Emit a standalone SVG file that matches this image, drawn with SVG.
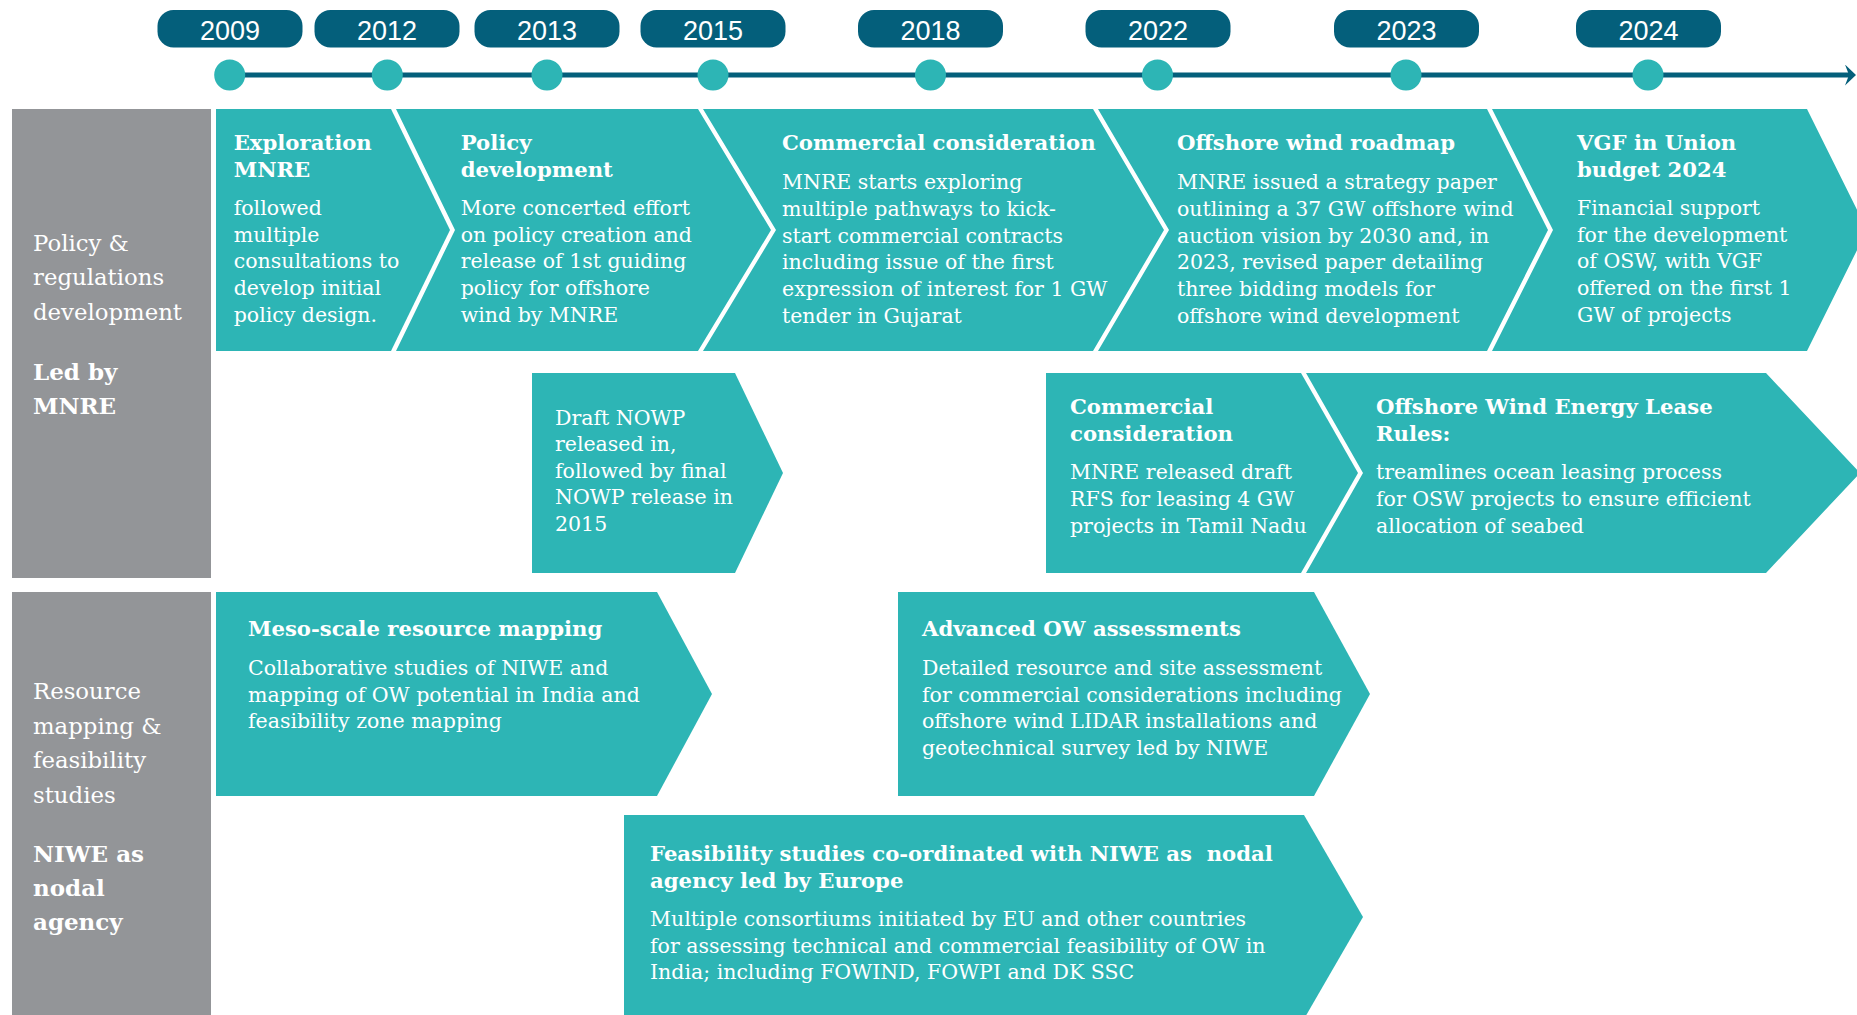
<svg xmlns="http://www.w3.org/2000/svg" width="1857" height="1015" viewBox="0 0 1857 1015">
<defs>
<style>
.box{fill:#2db5b5}
.side{fill:#939598}
.pill{fill:#045f7b}
.dot{fill:#2db5b5}
.t{font-family:"DejaVu Serif","Liberation Serif",serif;font-weight:bold;font-size:21.2px;fill:#fff}
.b{font-family:"DejaVu Serif","Liberation Serif",serif;font-size:20.5px;fill:#fff}
.g{font-family:"DejaVu Serif","Liberation Serif",serif;font-size:22.8px;fill:#fff}
.gb{font-family:"DejaVu Serif","Liberation Serif",serif;font-weight:bold;font-size:23px;fill:#fff}
.y{font-family:"Liberation Sans",Arial,sans-serif;font-size:27px;fill:#fff;text-anchor:middle}
</style>
<marker id="arr" viewBox="0 0 11 21" refX="6" refY="10.5" markerWidth="11" markerHeight="21" markerUnits="userSpaceOnUse" orient="auto">
<path d="M0,0 L11,10.5 L0,21 L4,10.5 Z" fill="#045f7b"/>
</marker>
</defs>
<rect width="1857" height="1015" fill="#fff"/>

<g id="connectors">
<line x1="230" y1="75" x2="1851" y2="75" stroke="#045f7b" stroke-width="5" marker-end="url(#arr)"/>
</g>

<g id="timeline">
<g id="y2009"><rect class="pill" x="157.5" y="10" width="145" height="37.5" rx="16"/><text class="y" x="230" y="40">2009</text><circle class="dot" cx="229.7" cy="75" r="15.5"/></g>
<g id="y2012"><rect class="pill" x="314.5" y="10" width="145" height="37.5" rx="16"/><text class="y" x="387" y="40">2012</text><circle class="dot" cx="387.3" cy="75" r="15.5"/></g>
<g id="y2013"><rect class="pill" x="474.5" y="10" width="145" height="37.5" rx="16"/><text class="y" x="547" y="40">2013</text><circle class="dot" cx="547" cy="75" r="15.5"/></g>
<g id="y2015"><rect class="pill" x="640.5" y="10" width="145" height="37.5" rx="16"/><text class="y" x="713" y="40">2015</text><circle class="dot" cx="713" cy="75" r="15.5"/></g>
<g id="y2018"><rect class="pill" x="858" y="10" width="145" height="37.5" rx="16"/><text class="y" x="930.5" y="40">2018</text><circle class="dot" cx="930.5" cy="75" r="15.5"/></g>
<g id="y2022"><rect class="pill" x="1085.5" y="10" width="145" height="37.5" rx="16"/><text class="y" x="1158" y="40">2022</text><circle class="dot" cx="1157.5" cy="75" r="15.5"/></g>
<g id="y2023"><rect class="pill" x="1334" y="10" width="145" height="37.5" rx="16"/><text class="y" x="1406.5" y="40">2023</text><circle class="dot" cx="1406" cy="75" r="15.5"/></g>
<g id="y2024"><rect class="pill" x="1576" y="10" width="145" height="37.5" rx="16"/><text class="y" x="1648.5" y="40">2024</text><circle class="dot" cx="1648" cy="75" r="15.5"/></g>
</g>

<g id="lane-policy">
<rect class="side" x="12" y="109" width="199" height="469"/>
<text class="g"><tspan x="33" y="250.7">Policy &amp;</tspan><tspan x="33" y="285.3">regulations</tspan><tspan x="33" y="320">development</tspan></text>
<text class="gb"><tspan x="33" y="380">Led by</tspan><tspan x="33" y="414">MNRE</tspan></text>
</g>

<g id="lane-resource">
<rect class="side" x="12" y="592" width="199" height="423"/>
<text class="g"><tspan x="33" y="699">Resource</tspan><tspan x="33" y="733.5">mapping &amp;</tspan><tspan x="33" y="768">feasibility</tspan><tspan x="33" y="802.5">studies</tspan></text>
<text class="gb"><tspan x="33" y="861.7">NIWE as</tspan><tspan x="33" y="895.7">nodal</tspan><tspan x="33" y="929.7">agency</tspan></text>
</g>

<g id="exploration">
<path class="box" d="M216,109 H391 L450,230 L391,351 H216 Z"/>
<text class="t"><tspan x="233.7" y="150">Exploration</tspan><tspan x="233.7" y="177.3">MNRE</tspan></text>
<text class="b"><tspan x="233.7" y="215">followed</tspan><tspan x="233.7" y="241.7">multiple</tspan><tspan x="233.7" y="268.3">consultations to</tspan><tspan x="233.7" y="295">develop initial</tspan><tspan x="233.7" y="321.7">policy design.</tspan></text>
</g>

<g id="policy-development">
<path class="box" d="M396,109 H698 L771,230 L698,351 H396 L455,230 Z"/>
<text class="t"><tspan x="460.7" y="150">Policy</tspan><tspan x="460.7" y="177.3">development</tspan></text>
<text class="b"><tspan x="460.7" y="215">More concerted effort</tspan><tspan x="460.7" y="241.7">on policy creation and</tspan><tspan x="460.7" y="268.3">release of 1st guiding</tspan><tspan x="460.7" y="295">policy for offshore</tspan><tspan x="460.7" y="321.7">wind by MNRE</tspan></text>
</g>

<g id="commercial-consideration">
<path class="box" d="M703,109 H1093 L1164,230 L1093,351 H703 L776,230 Z"/>
<text class="t"><tspan x="782" y="150">Commercial consideration</tspan></text>
<text class="b"><tspan x="782" y="189.3">MNRE starts exploring</tspan><tspan x="782" y="216">multiple pathways to kick-</tspan><tspan x="782" y="242.7">start commercial contracts</tspan><tspan x="782" y="269.3">including issue of the first</tspan><tspan x="782" y="296">expression of interest for 1 GW</tspan><tspan x="782" y="322.7">tender in Gujarat</tspan></text>
</g>

<g id="offshore-roadmap">
<path class="box" d="M1098,109 H1487 L1548,230 L1487,351 H1098 L1169,230 Z"/>
<text class="t"><tspan x="1177" y="150">Offshore wind roadmap</tspan></text>
<text class="b"><tspan x="1177" y="189.3">MNRE issued a strategy paper</tspan><tspan x="1177" y="216">outlining a 37 GW offshore wind</tspan><tspan x="1177" y="242.7">auction vision by 2030 and, in</tspan><tspan x="1177" y="269.3">2023, revised paper detailing</tspan><tspan x="1177" y="296">three bidding models for</tspan><tspan x="1177" y="322.7">offshore wind development</tspan></text>
</g>

<g id="vgf-budget">
<path class="box" d="M1492,109 H1807 L1867,230 L1807,351 H1492 L1553,230 Z"/>
<text class="t"><tspan x="1577" y="150">VGF in Union</tspan><tspan x="1577" y="177.3">budget 2024</tspan></text>
<text class="b"><tspan x="1577" y="215">Financial support</tspan><tspan x="1577" y="241.7">for the development</tspan><tspan x="1577" y="268.3">of OSW, with VGF</tspan><tspan x="1577" y="295">offered on the first 1</tspan><tspan x="1577" y="321.7">GW of projects</tspan></text>
</g>

<g id="draft-nowp">
<path class="box" d="M532,373 H735 L783,473 L735,573 H532 Z"/>
<text class="b"><tspan x="555" y="424.5">Draft NOWP</tspan><tspan x="555" y="451">released in,</tspan><tspan x="555" y="477.5">followed by final</tspan><tspan x="555" y="504">NOWP release in</tspan><tspan x="555" y="530.5">2015</tspan></text>
</g>

<g id="commercial-consideration-2">
<path class="box" d="M1046,373 H1301 L1358,473 L1301,573 H1046 Z"/>
<text class="t"><tspan x="1070" y="414">Commercial</tspan><tspan x="1070" y="440.5">consideration</tspan></text>
<text class="b"><tspan x="1070" y="479.3">MNRE released draft</tspan><tspan x="1070" y="506">RFS for leasing 4 GW</tspan><tspan x="1070" y="532.7">projects in Tamil Nadu</tspan></text>
</g>

<g id="lease-rules">
<path class="box" d="M1306,373 H1766 L1860,473 L1766,573 H1306 L1363,473 Z"/>
<text class="t"><tspan x="1376" y="414">Offshore Wind Energy Lease</tspan><tspan x="1376" y="440.5">Rules:</tspan></text>
<text class="b"><tspan x="1376" y="479.3">treamlines ocean leasing process</tspan><tspan x="1376" y="506">for OSW projects to ensure efficient</tspan><tspan x="1376" y="532.7">allocation of seabed</tspan></text>
</g>

<g id="meso-scale">
<path class="box" d="M216,592 H657 L712,694 L657,796 H216 Z"/>
<text class="t"><tspan x="248" y="636">Meso-scale resource mapping</tspan></text>
<text class="b"><tspan x="248" y="675">Collaborative studies of NIWE and</tspan><tspan x="248" y="701.7">mapping of OW potential in India and</tspan><tspan x="248" y="728.3">feasibility zone mapping</tspan></text>
</g>

<g id="advanced-ow">
<path class="box" d="M898,592 H1314 L1370,694 L1314,796 H898 Z"/>
<text class="t"><tspan x="922" y="636">Advanced OW assessments</tspan></text>
<text class="b"><tspan x="922" y="675">Detailed resource and site assessment</tspan><tspan x="922" y="701.7">for commercial considerations including</tspan><tspan x="922" y="728.3">offshore wind LIDAR installations and</tspan><tspan x="922" y="755">geotechnical survey led by NIWE</tspan></text>
</g>

<g id="feasibility-studies">
<path class="box" d="M624,815 H1304 L1363,917 L1304,1019 H624 Z"/>
<text class="t" style="white-space:pre"><tspan x="650" y="861">Feasibility studies co-ordinated with NIWE as  nodal</tspan><tspan x="650" y="888.3">agency led by Europe</tspan></text>
<text class="b"><tspan x="650" y="926">Multiple consortiums initiated by EU and other countries</tspan><tspan x="650" y="952.7">for assessing technical and commercial feasibility of OW in</tspan><tspan x="650" y="979.3">India; including FOWIND, FOWPI and DK SSC</tspan></text>
</g>
</svg>
